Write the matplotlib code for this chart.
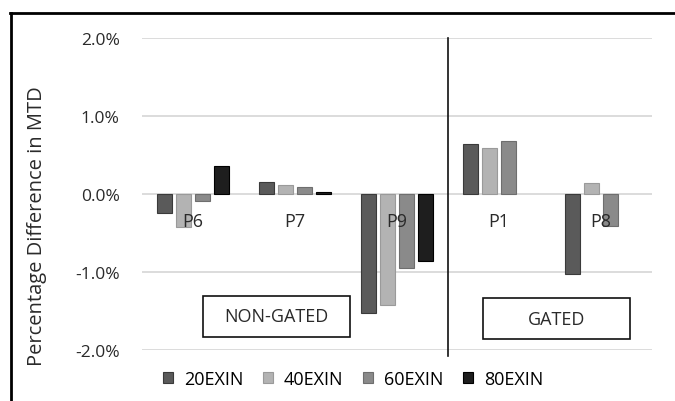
import numpy as np
import matplotlib
matplotlib.use("Agg")
import matplotlib.pyplot as plt
from matplotlib.patches import Rectangle
from matplotlib.lines import Line2D

plt.rcParams['font.family'] = ['Open Sans', 'DejaVu Sans']

# data (percent)
categories = ["P6", "P7", "P9", "P1", "P8"]
series = ["20EXIN", "40EXIN", "60EXIN", "80EXIN"]
v20 = [-0.24, 0.16, -1.52, 0.645, -1.02]
v40 = [-0.42, 0.12, -1.42, 0.59, 0.145]
v60 = [-0.09, 0.09, -0.95, 0.68, -0.41]
v80 = [0.36, 0.03, -0.86, np.nan, np.nan]
values = [v20, v40, v60, v80]
colors = ["#5a5a5a", "#b3b3b3", "#8a8a8a", "#1e1e1e"]
edges = ["#3a3a3a", "#9a9a9a", "#6e6e6e", "#000000"]

fig = plt.figure(figsize=(6.75, 4.02), dpi=100)
ax = fig.add_axes([142/675, 1 - 351/402, 510/675, 312/402])

x = np.arange(len(categories))
pitch = 0.186
width = 0.147
for i, (vals, c, ec) in enumerate(zip(values, colors, edges)):
    ax.bar(x + (i - 1.5) * pitch, vals, width, color=c, edgecolor=ec,
           linewidth=0.8, label=series[i], zorder=3)

ax.set_xlim(-0.5, 4.5)
ax.set_ylim(-2, 2)
ax.set_yticks([-2, -1, 0, 1, 2])
ax.set_yticklabels(["-2.0%", "-1.0%", "0.0%", "1.0%", "2.0%"], fontsize=12.5, color="#2a2a2a")
ax.set_xticks([])
ax.grid(axis='y', color="#d9d9d9", linewidth=1.3, zorder=0)
ax.tick_params(axis='y', length=0, pad=16)
for s in ax.spines.values():
    s.set_visible(False)
ax.set_ylabel("Percentage Difference in MTD", fontsize=14.5, color="#2a2a2a")
ax.yaxis.set_label_coords(-0.186, 0.40)

# category labels under the zero line
for xi, name in zip(x, categories):
    ax.text(xi, -0.34, name, ha='center', va='center', fontsize=13,
            color="#2a2a2a", zorder=4)

# divider between non-gated and gated
ax.plot([2.5, 2.5], [2.0, -2.08], color="#111111", linewidth=1.2, clip_on=False, zorder=4)

# group boxes
for bx, by, label in [(0.12, 0.042, "NON-GATED"), (0.669, 0.035, "GATED")]:
    ax.add_patch(Rectangle((bx, by), 0.288, 0.131, transform=ax.transAxes,
                           facecolor="white", edgecolor="#111111", linewidth=1.2, zorder=5))
    ax.text(bx + 0.144, by + 0.0655, label, transform=ax.transAxes, ha='center',
            va='center', fontsize=13, color="#2a2a2a", zorder=6)

fig.legend(loc='center', bbox_to_anchor=(353/675, 1 - 380/402), ncol=4, frameon=False,
           fontsize=13, handlelength=0.55, handleheight=0.55, handletextpad=0.6,
           columnspacing=1.1, borderpad=0)

# outer frame lines (top and left)
fig.add_artist(Line2D([10/675, 1], [1 - 14/402, 1 - 14/402], color="black", linewidth=2))
fig.add_artist(Line2D([11/675, 11/675], [0, 1 - 14/402], color="black", linewidth=2))

fig.savefig("out.png", dpi=100)
